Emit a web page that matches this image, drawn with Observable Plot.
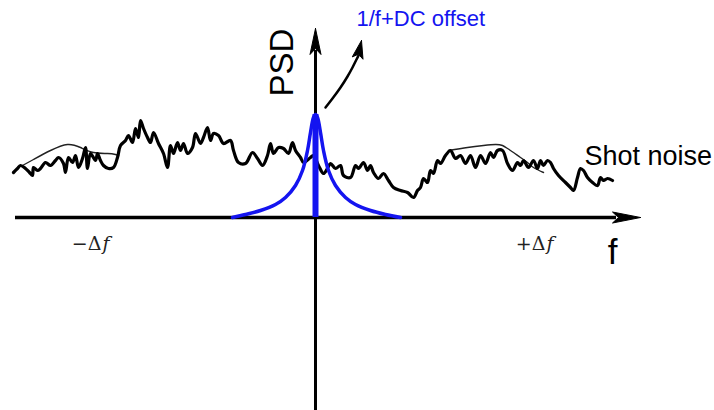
<!DOCTYPE html>
<html><head><meta charset="utf-8">
<script src="https://cdn.jsdelivr.net/npm/d3@7"></script>
<script src="https://cdn.jsdelivr.net/npm/@observablehq/plot@0.6"></script>
<style>html,body{margin:0;padding:0;background:#fff}#chart svg{display:block}</style>
</head><body><div id="chart"></div>
<script>
// Shot-noise trace (read positions in the drawing's coordinate frame: x → frequency, y → PSD downward)
const shotX = [13,17,20,25,29,32,33,37,40,45,50,55,58,63,65,68,72,75,78,82,85,87,90,95,97,100,103,108,113,117,120,125,128,132,135,138,140,143,147,150,153,158,163,167,170,173,177,180,183,187,192,195,200,203,207,210,213,218,223,230,233,238,245,252,257,262,267,270,273,278,283,288,292,295,300,303,310,313,318,323,327,330,335,340,343,350,355,358,363,367,370,373,378,383,388,393,400,407,413,417,420,423,427,430,433,437,440,445,450,455,460,465,470,475,480,485,490,493,497,502,507,512,517,520,523,528,533,537,540,543,547,550,553,558,565,570,573,577,580,583,587,592,597,600,603,607,612];
const shotY = [172,168,165,168,172,175,167,170,168,162,165,160,157,163,172,157,162,155,167,158,147,168,153,160,153,160,165,168,167,157,145,140,135,142,128,137,120,128,137,142,132,143,153,167,145,153,142,150,143,153,147,133,143,137,127,140,133,135,143,140,150,162,163,152,158,165,155,143,153,147,148,153,142,150,157,162,157,155,165,173,168,163,168,165,175,177,165,168,162,170,165,172,178,173,180,187,190,192,197,190,187,178,182,170,173,160,163,155,150,158,155,163,155,167,155,163,152,157,150,150,163,170,162,165,160,167,160,168,160,165,160,162,168,175,182,187,190,177,168,170,177,182,185,177,180,178,180];
// Smooth envelope sketches
const envLeftX = [22,33,50,67,80,93,107,115,118];
const envLeftY = [165,159,150,144,147,152,153,154,155];
const envRightX = [448,467,483,495,502,507,513,520,527,533,543];
const envRightY = [150,147,145,144,145,148,152,157,162,167,172];
// 1/f + DC offset peak
const peakX = [232,245,260,275,285,295,302,307,310,313,315,317,320,323,328,335,345,355,370,385,400];
const peakY = [217,214,210,204,197,185,170,150,132,117,114,117,132,150,170,185,197,204,210,214,217];
const spikeX = [315], spikeTop = [114], spikeBase = [217];
// Axes
const hAxis = {x1: 15, x2: 640, y: 217};
const vAxis = {x: 315, y1: 410, y2: 28};
// Curved pointer
const curveX = [325,332,340,347,352,356,358];
const curveY = [107,98,87,76,67,59,55];
const curveTip = [361, 40];
// Labels
const labels = {
  psd: "PSD", dc: "1/f+DC offset", shot: "Shot noise", f: "f"
};

function head(tx, ty, dx, dy, L, w, n, id) {
  const m = Math.hypot(dx, dy); dx /= m; dy /= m;
  const px = -dy, py = dx;
  return [
    {x: tx, y: ty, id},
    {x: tx - L*dx + w*px, y: ty - L*dy + w*py, id},
    {x: tx - (L-n)*dx, y: ty - (L-n)*dy, id},
    {x: tx - L*dx - w*px, y: ty - L*dy - w*py, id},
    {x: tx, y: ty, id}
  ];
}
const heads = [
  ...head(hAxis.x2, hAxis.y, 1, 0, 28, 5.5, 6, "h"),
  ...head(vAxis.x, vAxis.y2, 0, -1, 26, 5.5, 6, "v"),
  ...head(curveTip[0], curveTip[1], 0.22, -1, 18, 5.5, 4, "c")
];

const shot = shotX.map((x,i)=>({x, y: shotY[i]}));
const envL = envLeftX.map((x,i)=>({x, y: envLeftY[i]}));
const envR = envRightX.map((x,i)=>({x, y: envRightY[i]}));
const peak = peakX.map((x,i)=>({x, y: peakY[i]}));
const curve = curveX.map((x,i)=>({x, y: curveY[i]}));

const sans = "Liberation Sans, Arial, Helvetica, sans-serif";
const serif = "DejaVu Serif, serif";
const blue = "#1414f0";

const chart = Plot.plot({
  width: 714, height: 410, margin: 0,
  x: {domain: [0, 714], range: [0, 714], axis: null},
  y: {domain: [0, 410], range: [0, 410], axis: null},
  style: {background: "#fff"},
  marks: [
    Plot.ruleY([hAxis.y], {x1: hAxis.x1, x2: hAxis.x2 - 24, stroke: "#000", strokeWidth: 3.5}),
    Plot.ruleX([vAxis.x], {y1: vAxis.y1, y2: vAxis.y2 + 22, stroke: "#000", strokeWidth: 3}),
    Plot.line(heads, {x: "x", y: "y", z: "id", fill: "#000", stroke: "#000", strokeWidth: 1, curve: "linear"}),
    Plot.line(curve, {x: "x", y: "y", stroke: "#000", strokeWidth: 2.5, curve: "natural"}),
    Plot.line(envL, {x: "x", y: "y", stroke: "#222", strokeWidth: 1.4, curve: "natural"}),
    Plot.line(envR, {x: "x", y: "y", stroke: "#222", strokeWidth: 1.4, curve: "natural"}),
    Plot.line(shot, {x: "x", y: "y", stroke: "#000", strokeWidth: 3.2, curve: "catmull-rom", strokeLinejoin: "round"}),
    Plot.line(peak, {x: "x", y: "y", stroke: blue, strokeWidth: 3.5, curve: "catmull-rom"}),
    Plot.ruleX(spikeX, {y1: spikeTop, y2: spikeBase, stroke: blue, strokeWidth: 6}),
    Plot.text([labels.psd], {x: [282], y: [62], text: d => d, rotate: -90, fontSize: 33, fontFamily: sans, fill: "#000"}),
    Plot.text([labels.dc], {x: [356], y: [18], text: d => d, textAnchor: "start", fontSize: 22, fontFamily: sans, fill: blue}),
    Plot.text([labels.shot], {x: [584], y: [156], text: d => d, textAnchor: "start", fontSize: 27, fontFamily: sans, fill: "#000"}),
    Plot.text([labels.f], {x: [612], y: [252], text: d => d, fontSize: 35, fontFamily: sans, fill: "#000"}),
    Plot.text(["\u2212\u0394"], {x: [101], y: [243], text: d => d, textAnchor: "end", fontSize: 19, fontFamily: serif, fill: "#222"}),
    Plot.text(["f"], {x: [102], y: [243], text: d => d, textAnchor: "start", fontSize: 19, fontFamily: serif, fontStyle: "italic", fill: "#222"}),
    Plot.text(["+\u0394"], {x: [545], y: [243], text: d => d, textAnchor: "end", fontSize: 19, fontFamily: serif, fill: "#222"}),
    Plot.text(["f"], {x: [546], y: [243], text: d => d, textAnchor: "start", fontSize: 19, fontFamily: serif, fontStyle: "italic", fill: "#222"})
  ]
});
document.getElementById("chart").appendChild(chart);
</script>
</body></html>
